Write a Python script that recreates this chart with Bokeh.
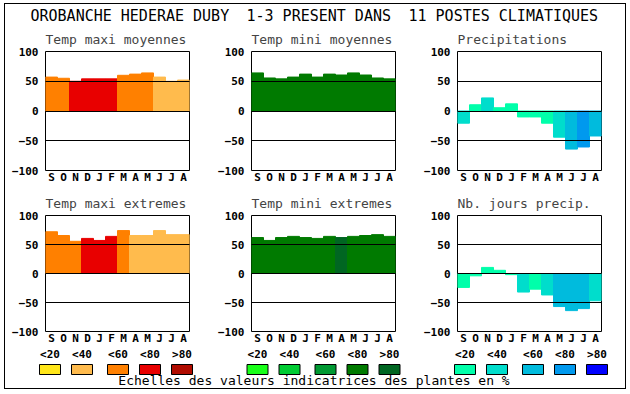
from bokeh.plotting import figure
from bokeh.layouts import column, row
from bokeh.models import Range1d, FixedTicker, Label, ColumnDataSource
from bokeh.core.properties import value
from bokeh.embed import file_html
from bokeh.resources import INLINE

# ---------------- data ----------------
title_parts = ["OROBANCHE HEDERAE DUBY", "1-3 PRESENT DANS", "11 POSTES CLIMATIQUES"]
footer_text = "Echelles des valeurs indicatrices des plantes en %"
months = ["S", "O", "N", "D", "J", "F", "M", "A", "M", "J", "J", "A"]
y_ticks = [-100, -50, 0, 50, 100]
ref_lines = [-50, 0, 50]
legend_labels = ["<20", "<40", "<60", "<80", ">80"]

titles = ["Temp maxi moyennes", "Temp mini moyennes", "Precipitations",
          "Temp maxi extremes", "Temp mini extremes", "Nb. jours precip."]

tmax_moy = [57, 55, 50, 54, 54, 54, 60, 62, 64, 57, 50, 52]
tmax_moy_cls = [2, 2, 3, 3, 3, 3, 2, 2, 2, 1, 1, 1]
tmin_moy = [64, 55.5, 54, 57, 62, 57, 62, 60.5, 64, 60.5, 55.5, 54]
tmin_moy_cls = [3, 3, 3, 3, 3, 3, 3, 3, 3, 3, 3, 3]
precip = [-20.5, 10.5, 22, 5.5, 12, -10, -10, -20.5, -44, -64, -60.5, -42]
precip_cls = [1, 0, 1, 0, 0, 0, 0, 0, 1, 2, 3, 2]
tmax_ext = [72, 65.5, 55.5, 60.5, 57, 64, 74, 65.5, 65.5, 74, 67, 67]
tmax_ext_cls = [2, 2, 2, 3, 3, 3, 2, 1, 1, 1, 1, 1]
tmin_ext = [62, 57, 62, 64, 62, 60.5, 64, 62, 64, 65.5, 67, 64]
tmin_ext_cls = [3, 3, 3, 3, 3, 3, 3, 4, 3, 3, 3, 3]
nbj = [-24, -4, 10.5, 5.5, -2, -32, -27, -37, -57, -64, -60.5, -47]
nbj_cls = [0, 0, 0, 0, 0, 1, 0, 1, 2, 2, 2, 1]

# ---------------- styles ----------------
TEMP = ["#FFE619", "#FFBB4D", "#FF8000", "#E80000", "#B00C00"]
GREEN = ["#19FF19", "#00CC33", "#009933", "#007A00", "#006622"]
BLUE = ["#00FFAA", "#00DDCC", "#00BBDD", "#0099EE", "#0000FF"]
FONT = "DejaVu Sans Mono"


def panel(title, vals, cls, pal, width, right, height, bottom):
    p = figure(width=width, height=height, x_range=Range1d(0.5, 12.5),
               y_range=Range1d(-100, 100), output_backend="svg",
               toolbar_location=None, min_border_left=40,
               min_border_right=right, min_border_top=25,
               min_border_bottom=bottom)
    xs = list(range(1, 13))
    src = ColumnDataSource(dict(x=xs, top=vals, color=[pal[c] for c in cls]))
    p.vbar(x="x", top="top", bottom=0, width=1, fill_color="color",
           line_color="color", line_width=1, source=src)
    p.title.text = title
    p.title.text_font = FONT
    p.title.text_font_size = "13px"
    p.title.text_font_style = "normal"
    p.title.standoff = 9
    p.title.align = "left"
    p.xaxis.ticker = FixedTicker(ticks=xs)
    p.xaxis.major_label_overrides = {x: m for x, m in zip(xs, months)}
    p.yaxis.ticker = FixedTicker(ticks=y_ticks)
    for ax, so in ((p.xaxis, 0), (p.yaxis, 7)):
        ax.major_label_text_font = FONT
        ax.major_label_text_font_size = "11px"
        ax.major_label_text_font_style = "bold"
        ax.major_label_text_color = "black"
        ax.major_tick_out = 0
        ax.major_tick_in = 0
        ax.minor_tick_out = 0
        ax.minor_tick_in = 0
        ax.axis_line_color = None
        ax.major_label_standoff = so
    p.xgrid.visible = False
    p.ygrid.ticker = FixedTicker(ticks=ref_lines)
    p.ygrid.grid_line_color = "black"
    p.ygrid.grid_line_width = 1
    p.ygrid.level = "overlay"
    p.outline_line_color = "black"
    p.outline_line_alpha = 1
    p.outline_line_width = 1
    p.background_fill_color = "white"
    p.border_fill_color = "white"
    return p


HH = 21
header = figure(width=620, height=HH, x_range=Range1d(0, 620),
                y_range=Range1d(HH, 0), output_backend="svg",
                toolbar_location=None, x_axis_type=None, y_axis_type=None,
                min_border=0)
header.grid.visible = False
header.outline_line_color = None
for part, xpos in zip(title_parts, (25, 241, 403)):
    header.add_layout(Label(x=xpos, y=11.8, text=part, text_align="left",
                            text_baseline="middle", text_font=FONT,
                            text_font_size="15px", text_color="black"))

widths = [206, 206, 208]
rights = [22, 22, 24]
row0 = row(
    panel(titles[0], tmax_moy, tmax_moy_cls, TEMP, widths[0], rights[0], 164, 19),
    panel(titles[1], tmin_moy, tmin_moy_cls, GREEN, widths[1], rights[1], 164, 19),
    panel(titles[2], precip, precip_cls, BLUE, widths[2], rights[2], 164, 19),
    spacing=0)
row1 = row(
    panel(titles[3], tmax_ext, tmax_ext_cls, TEMP, widths[0], rights[0], 158, 13),
    panel(titles[4], tmin_ext, tmin_ext_cls, GREEN, widths[1], rights[1], 158, 13),
    panel(titles[5], nbj, nbj_cls, BLUE, widths[2], rights[2], 158, 13),
    spacing=0)

FH = 41
footer = figure(width=620, height=FH, x_range=Range1d(0, 620),
                y_range=Range1d(FH, 0), output_backend="svg",
                toolbar_location=None, x_axis_type=None, y_axis_type=None,
                min_border=0)
footer.grid.visible = False
footer.outline_line_color = None
group_starts = [34, 241.5, 449]
offsets = [0, 32, 68, 100, 132]
sw = 21
for g, pal in zip(group_starts, (TEMP, GREEN, BLUE)):
    lefts = [g + o for o in offsets]
    footer.quad(left=lefts, right=[l + sw for l in lefts], top=[17] * 5,
                bottom=[27] * 5, fill_color=pal, line_color="black",
                line_width=1)
    footer.text(x=[l + sw / 2 for l in lefts], y=[7] * 5,
                text=legend_labels, text_align="center",
                text_baseline="middle", text_font=value(FONT),
                text_font_size="11px", text_font_style="bold",
                text_color="black")
footer.add_layout(Label(x=308.5, y=33, text=footer_text, text_align="center",
                        text_baseline="middle", text_font=FONT,
                        text_font_size="13px", text_color="black"))

layout = column(header, row0, row1, footer, spacing=0,
                styles={"border": "1px solid black", "margin-left": "4px",
                        "margin-top": "3px", "background-color": "white"})

open("out.html", "w").write(file_html(layout, INLINE))
